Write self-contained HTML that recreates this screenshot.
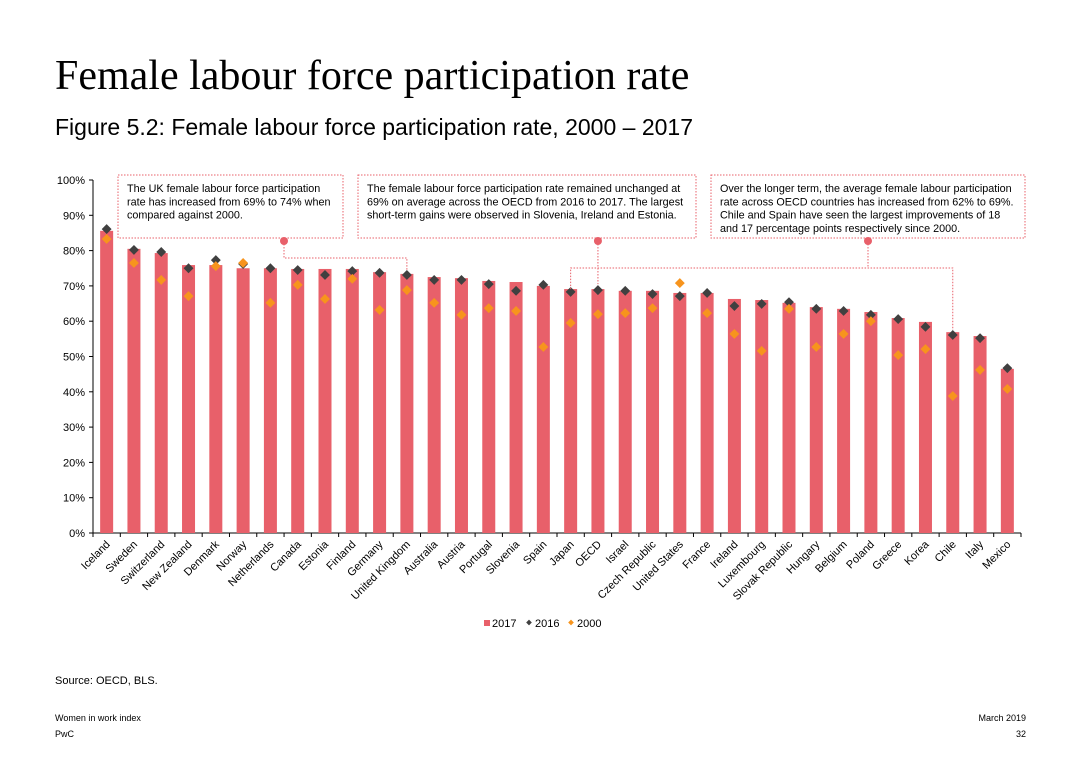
<!DOCTYPE html>
<html><head><meta charset="utf-8"><style>
body{margin:0;background:#fff;font-family:"Liberation Sans",sans-serif;}
.wrap{position:relative;width:1080px;height:764px;overflow:hidden;}
.t{position:absolute;white-space:nowrap;}
</style></head><body><div class="wrap">
<div class="t" style="left:55px;top:52px;font-family:'Liberation Serif',serif;font-size:42px;color:#000;">Female labour force participation rate</div>
<div class="t" style="left:55px;top:114px;font-size:23px;color:#000;">Figure 5.2: Female labour force participation rate, 2000 – 2017</div>
<svg id="chart" width="1080" height="764" style="position:absolute;left:0;top:0;font-family:'Liberation Sans',sans-serif;"></svg>
<div class="t" style="left:55px;top:675px;font-size:11px;">Source: OECD, BLS.</div>
<div class="t" style="left:55px;top:713px;font-size:9px;">Women in work index</div>
<div class="t" style="left:55px;top:729px;font-size:9px;">PwC</div>
<div class="t" style="right:54px;top:713px;font-size:9px;">March 2019</div>
<div class="t" style="right:54px;top:729px;font-size:9px;">32</div>
</div>
<script>
const categories=["Iceland","Sweden","Switzerland","New Zealand","Denmark","Norway","Netherlands","Canada","Estonia","Finland","Germany","United Kingdom","Australia","Austria","Portugal","Slovenia","Spain","Japan","OECD","Israel","Czech Republic","United States","France","Ireland","Luxembourg","Slovak Republic","Hungary","Belgium","Poland","Greece","Korea","Chile","Italy","Mexico"];
const v2017=[85.6,80.5,79.3,75.9,75.9,75,75,74.8,74.8,74.8,73.9,73.4,72.5,72.2,71.4,71.1,70,69.1,69.1,68.6,68.6,68,68,66.3,66,65.2,64,63.5,62.6,60.9,59.8,56.9,55.8,46.5];
const v2016=[86.1,80.2,79.6,75,77.3,76.2,75,74.5,73.1,74.2,73.7,73.1,71.7,71.7,70.5,68.6,70.3,68.3,68.8,68.6,67.7,67.1,68,64.3,64.9,65.4,63.5,62.9,61.8,60.6,58.4,56.1,55.2,46.7];
const v2000=[83.3,76.5,71.7,67.1,75.6,76.5,65.2,70.3,66.3,72,63.2,68.8,65.2,61.8,63.7,62.9,52.7,59.5,62,62.3,63.7,70.8,62.3,56.4,51.6,63.5,52.7,56.4,60,50.4,52.1,38.8,46.2,40.8];
const yTicks=[0,10,20,30,40,50,60,70,80,90,100];
const svg=document.getElementById('chart');const NS='http://www.w3.org/2000/svg';
const X0=93,X1=1021,Y0=533,Y1=180;const bw=(X1-X0)/categories.length;
const xc=i=>X0+bw*(i+0.5);const y=v=>Y0-(Y0-Y1)*v/100;
function mk(t,a,p){const e=document.createElementNS(NS,t);for(const k in a)e.setAttribute(k,a[k]);(p||svg).appendChild(e);return e;}
let ax=mk('line',{x1:X0,y1:Y1,x2:X0,y2:Y0,stroke:'#000'});


let axx=mk('line',{x1:X0,y1:Y0,x2:X1,y2:Y0,stroke:'#000'});


yTicks.forEach(t=>{mk('line',{x1:X0-4,x2:X0,y1:y(t),y2:y(t),stroke:'#000'});
const tx=mk('text',{x:X0-8,y:y(t)+4,'text-anchor':'end','font-size':11});tx.textContent=t+'%';

});
for(let i=0;i<=categories.length;i++)mk('line',{x1:X0+bw*i,x2:X0+bw*i,y1:Y0,y2:Y0+4,stroke:'#000'});
categories.forEach((c,i)=>{
const b=mk('rect',{x:xc(i)-6.5,y:y(v2017[i]),width:13,height:Y0-y(v2017[i]),fill:'#e8606a'});


const d=mk('rect',{x:xc(i)-3.5,y:y(v2016[i])-3.5,width:7,height:7,fill:'#404040',transform:`rotate(45 ${xc(i)} ${y(v2016[i])})`});


const o=mk('rect',{x:xc(i)-3.5,y:y(v2000[i])-3.5,width:7,height:7,fill:'#f7941d',transform:`rotate(45 ${xc(i)} ${y(v2000[i])})`});


const lx=xc(i)+4,ly=Y0+12;
const l=mk('text',{x:lx,y:ly,'text-anchor':'end','font-size':11,transform:`rotate(-45 ${lx} ${ly})`});l.textContent=c;


});
const red='#e8606a';
function box(x,w,lines){const g=mk('g',{});


mk('rect',{x:x,y:175,width:w,height:63,fill:'#fff',stroke:red,'stroke-dasharray':'1.5,1.5'},g);
lines.forEach((s,k)=>{const t=mk('text',{x:x+9,y:192+k*13.3,'font-size':10.8},g);t.textContent=s;});}
box(118,225,["The UK female labour force participation","rate has increased from 69% to 74% when","compared against 2000."]);
box(358,338,["The female labour force participation rate remained unchanged at","69% on average across the OECD from 2016 to 2017. The largest","short-term gains were observed in Slovenia, Ireland and Estonia."]);
box(711,314,["Over the longer term, the average female labour participation","rate across OECD countries has increased from 62% to 69%.","Chile and Spain have seen the largest improvements of 18","and 17 percentage points respectively since 2000."]);
const uk=categories.indexOf('United Kingdom'),oe=categories.indexOf('OECD'),jp=categories.indexOf('Japan'),ch=categories.indexOf('Chile');
const dl={fill:'none',stroke:red,'stroke-dasharray':'1.5,1.5'};
mk('polyline',Object.assign({points:`284,241 284,258 ${xc(uk)},258 ${xc(uk)},${y(v2016[uk])-5}`},dl));
mk('polyline',Object.assign({points:`${xc(oe)},241 ${xc(oe)},${y(v2016[oe])-6}`},dl));
mk('polyline',Object.assign({points:`868,241 868,268`},dl));
mk('polyline',Object.assign({points:`${xc(jp)},${y(v2017[jp])} ${xc(jp)},268 ${xc(ch)},268 ${xc(ch)},${y(v2016[ch])-5}`},dl));
[[284,241],[xc(oe),241],[868,241]].forEach(p=>{const c=mk('circle',{cx:p[0],cy:p[1],r:4,fill:red});

});
const lg=mk('g',{});


mk('rect',{x:484,y:620,width:6,height:6,fill:'#e8606a'},lg);
let t1=mk('text',{x:492,y:627,'font-size':11},lg);t1.textContent='2017';
mk('rect',{x:527,y:620.5,width:4,height:4,fill:'#404040',transform:'rotate(45 529 622.5)'},lg);
let t2=mk('text',{x:535,y:627,'font-size':11},lg);t2.textContent='2016';
mk('rect',{x:569,y:620.5,width:4,height:4,fill:'#f7941d',transform:'rotate(45 571 622.5)'},lg);
let t3=mk('text',{x:577,y:627,'font-size':11},lg);t3.textContent='2000';
</script></body></html>
